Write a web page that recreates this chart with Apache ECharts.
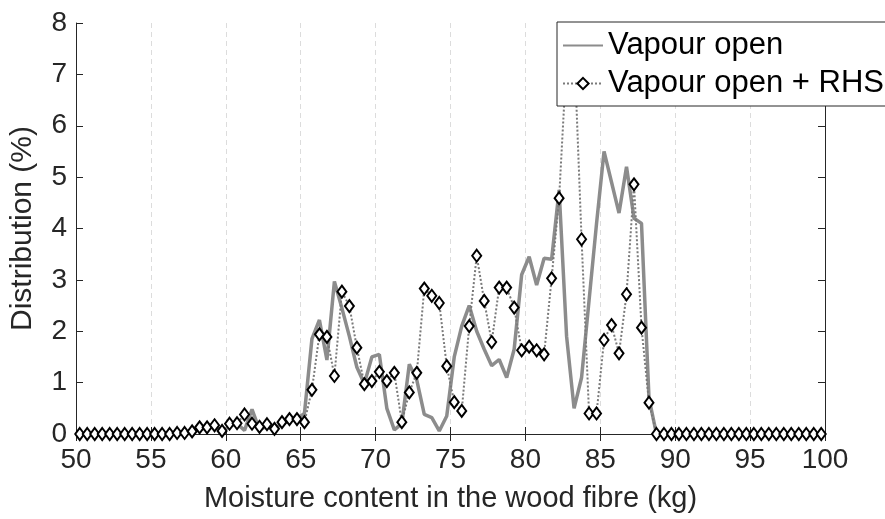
<!DOCTYPE html>
<html>
<head>
<meta charset="utf-8">
<script src="https://cdn.jsdelivr.net/npm/echarts@6/dist/echarts.min.js"></script>
<style>
html,body{margin:0;padding:0;background:#fff;}
#chart{width:885px;height:519px;}
</style>
</head>
<body>
<div id="chart"></div>
<script>
// Bin centres of the moisture content (kg)
const moisture = [
50.25,50.75,51.25,51.75,52.25,52.75,53.25,53.75,54.25,54.75,
55.25,55.75,56.25,56.75,57.25,57.75,58.25,58.75,59.25,59.75,
60.25,60.75,61.25,61.75,62.25,62.75,63.25,63.75,64.25,64.75,
65.25,65.75,66.25,66.75,67.25,67.75,68.25,68.75,69.25,69.75,
70.25,70.75,71.25,71.75,72.25,72.75,73.25,73.75,74.25,74.75,
75.25,75.75,76.25,76.75,77.25,77.75,78.25,78.75,79.25,79.75,
80.25,80.75,81.25,81.75,82.25,82.75,83.25,83.75,84.25,84.75,
85.25,85.75,86.25,86.75,87.25,87.75,88.25,88.75,89.25,89.75,
90.25,90.75,91.25,91.75,92.25,92.75,93.25,93.75,94.25,94.75,
95.25,95.75,96.25,96.75,97.25,97.75,98.25,98.75,99.25,99.75
];
// Distribution (%) - Vapour open
const vapourOpen = [
0,0,0,0,0,0,0,0,0,0,
0,0,0,0,0.02,0.05,0.1,0.1,0.15,0.05,
0.15,0.2,0.07,0.48,0.08,0.15,0.1,0.2,0.25,0.3,
0.4,1.85,2.22,1.44,2.97,2.45,1.9,1.3,0.98,1.5,
1.55,0.5,0.08,0.2,1.36,1.05,0.38,0.32,0.06,0.35,
1.5,2.1,2.5,2.0,1.65,1.33,1.45,1.1,1.65,3.1,
3.45,2.9,3.42,3.4,4.75,1.9,0.5,1.1,2.6,4.1,
5.5,4.9,4.3,5.2,4.2,4.1,0.7,0,0,0,
0,0,0,0,0,0,0,0,0,0,
0,0,0,0,0,0,0,0,0,0
];
// Distribution (%) - Vapour open + RHS
const vapourOpenRHS = [
0,0,0,0,0,0,0,0,0,0,
0,0,0,0.02,0.02,0.05,0.13,0.13,0.17,0.06,
0.2,0.21,0.38,0.2,0.14,0.19,0.1,0.23,0.29,0.29,
0.23,0.86,1.94,1.89,1.13,2.77,2.49,1.68,0.97,1.03,
1.21,1.03,1.19,0.23,0.81,1.19,2.83,2.69,2.55,1.32,
0.62,0.45,2.1,3.47,2.59,1.79,2.85,2.85,2.46,1.63,
1.7,1.63,1.55,3.03,4.59,7.3,7.6,3.79,0.4,0.4,
1.83,2.12,1.57,2.72,4.86,2.07,0.61,0,0,0,
0,0,0,0,0,0,0,0,0,0,
0,0,0,0,0,0,0,0,0,0
];
const seriesNames = ['Vapour open', 'Vapour open + RHS'];
const xTitle = 'Moisture content in the wood fibre (kg)';
const yTitle = 'Distribution (%)';

const FONT = '"Liberation Sans", Arial, Helvetica, sans-serif';
const AX = '#262626';

const pair = (ys) => moisture.map((x, i) => [x, ys[i]]);

const chart = echarts.init(document.getElementById('chart'), null, {renderer: 'canvas'});
const hiddenAxisCommon = {
  axisLine: {show: true, lineStyle: {color: AX, width: 1}},
  axisTick: {show: true, inside: true, length: 7, lineStyle: {color: AX}},
  axisLabel: {show: false},
  splitLine: {show: false}
};
chart.setOption({
  animation: false,
  backgroundColor: '#fff',
  grid: {left: 72, right: 60, top: 23, bottom: 85, containLabel: false},
  legend: {
    orient: 'vertical',
    left: 557, top: 22,
    data: [
      {name: seriesNames[0], itemStyle: {opacity: 0}},
      {name: seriesNames[1]}
    ],
    itemWidth: 40, itemHeight: 14, itemGap: 7,
    padding: [8, 4, 7, 5],
    backgroundColor: '#fff',
    borderColor: AX, borderWidth: 1, borderRadius: 0,
    textStyle: {fontSize: 31, color: '#000', fontFamily: FONT},
    z: 20
  },
  xAxis: [{
    type: 'value', min: 50, max: 100, interval: 5,
    name: xTitle, nameLocation: 'middle', nameGap: 50,
    nameTextStyle: {fontSize: 29, color: AX, fontFamily: FONT},
    axisLine: {show: true, lineStyle: {color: AX, width: 1}},
    axisTick: {show: true, inside: true, length: 7, lineStyle: {color: AX}},
    axisLabel: {fontSize: 28, color: AX, fontFamily: FONT, margin: 12},
    splitLine: {show: true, lineStyle: {color: '#dcdcdc', type: [5, 4], width: 1}}
  }, Object.assign({type: 'value', min: 50, max: 100, interval: 5, position: 'top'}, hiddenAxisCommon)],
  yAxis: [{
    type: 'value', min: 0, max: 8, interval: 1,
    name: yTitle, nameLocation: 'middle', nameGap: 38,
    nameTextStyle: {fontSize: 30, color: AX, fontFamily: FONT},
    axisLine: {show: true, lineStyle: {color: AX, width: 1}},
    axisTick: {show: true, inside: true, length: 7, lineStyle: {color: AX}},
    axisLabel: {fontSize: 28, color: AX, fontFamily: FONT, margin: 9},
    splitLine: {show: false}
  }, Object.assign({type: 'value', min: 0, max: 8, interval: 1, position: 'right'}, hiddenAxisCommon)],
  series: [{
    name: seriesNames[0], type: 'line', data: pair(vapourOpen),
    showSymbol: false, symbol: 'none',
    lineStyle: {color: '#8c8c8c', width: 3.5},
    itemStyle: {color: '#8c8c8c'},
    z: 2, clip: true
  }, {
    name: seriesNames[1], type: 'line', data: pair(vapourOpenRHS),
    symbol: 'diamond', symbolSize: [9, 12], showAllSymbol: true,
    lineStyle: {color: '#7a7a7a', width: 2, type: [2, 2]},
    itemStyle: {color: '#fff', borderColor: '#000', borderWidth: 2},
    z: 3, clip: true
  }]
});
</script>
</body>
</html>
